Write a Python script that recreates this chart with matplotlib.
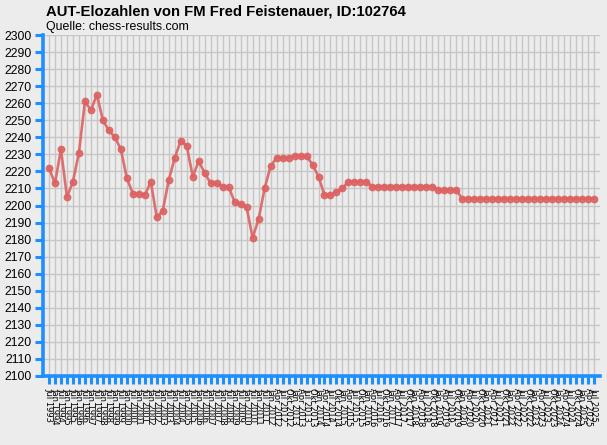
import matplotlib
matplotlib.use("Agg")
import matplotlib.pyplot as plt

# rating lists: half-yearly up to Jan 2012, quarterly after that
semi_months = ["Jul", "Jan"]
quarter_months = ["Jan", "Apr", "Jul", "Okt"]


def build_labels():
    labels = []
    year, m = 1993, 0
    # Jul 1993 .. Jan 2012
    while True:
        labels.append(semi_months[m] + " " + str(year))
        if year == 2012 and m == 1:
            break
        if m == 0:
            m = 1
            year += 1
        else:
            m = 0
    # Apr 2012 .. Jul 2025
    year, q = 2012, 1
    while True:
        labels.append(quarter_months[q] + " " + str(year))
        if year == 2025 and q == 2:
            break
        q += 1
        if q == 4:
            q = 0
            year += 1
    return labels


ratings = [2222, 2213, 2233, 2205, 2214, 2231, 2261, 2256, 2265, 2250,
           2244, 2240, 2233, 2216, 2207, 2207, 2206, 2214, 2193, 2197,
           2215, 2228, 2238, 2235, 2217, 2226, 2219, 2213, 2213, 2211,
           2211, 2202, 2201, 2199, 2181, 2192, 2210, 2223, 2228, 2228,
           2228, 2229, 2229, 2229, 2224, 2217, 2206, 2206, 2208, 2210,
           2214, 2214, 2214, 2214, 2211, 2211, 2211, 2211, 2211, 2211,
           2211, 2211, 2211, 2211, 2211, 2209, 2209, 2209, 2209, 2204,
           2204, 2204, 2204, 2204, 2204, 2204, 2204, 2204, 2204, 2204,
           2204, 2204, 2204, 2204, 2204, 2204, 2204, 2204, 2204, 2204,
           2204, 2204]

title = "AUT-Elozahlen von FM Fred Feistenauer, ID:102764"
subtitle = "Quelle: chess-results.com"


def main():
    labels = build_labels()
    x = list(range(len(ratings)))

    bg = "#ECECEC"
    blue = "#1E8FFF"
    W, H = 607, 445
    fig = plt.figure(figsize=(W / 100, H / 100), dpi=100, facecolor=bg)
    ax = fig.add_axes([43 / W, (H - 376) / H, 557 / W, 341 / H], facecolor=bg)

    ax.plot(x, ratings, color="#DD6262", lw=1.9, marker="o", ms=4.6,
            alpha=0.9, zorder=3)

    ax.set_xlim(-1, 92)
    ax.set_ylim(2100, 2300)
    ax.set_yticks(range(2100, 2301, 10))
    ax.set_xticks(x)
    ax.set_xticklabels(labels, rotation=270, fontsize=6.0,
                       family="DejaVu Sans", va="top", ha="center")
    for t in ax.get_yticklabels():
        t.set_family("Liberation Sans")
        t.set_fontsize(8.8)

    ax.grid(True, color="#C6C6C6", lw=1.0, zorder=0)
    ax.set_axisbelow(True)
    for s in ["top", "right"]:
        ax.spines[s].set_visible(False)
    for s in ["left", "bottom"]:
        ax.spines[s].set_color(blue)
        ax.spines[s].set_linewidth(2.6)
    ax.tick_params(axis="y", colors=blue, length=6, width=2.2, pad=2,
                   labelcolor="black")
    ax.tick_params(axis="x", colors=blue, length=6, width=2.2, pad=3,
                   labelcolor="black")

    fig.text(46 / W, 1 - 12 / H, title, fontsize=10.7, fontweight="bold",
             family="Liberation Sans", va="center", ha="left")
    fig.text(46 / W, 1 - 27 / H, subtitle, fontsize=8.9,
             family="Liberation Sans", va="center", ha="left")

    fig.savefig("out.png", dpi=100, facecolor=bg)


if __name__ == "__main__":
    main()
